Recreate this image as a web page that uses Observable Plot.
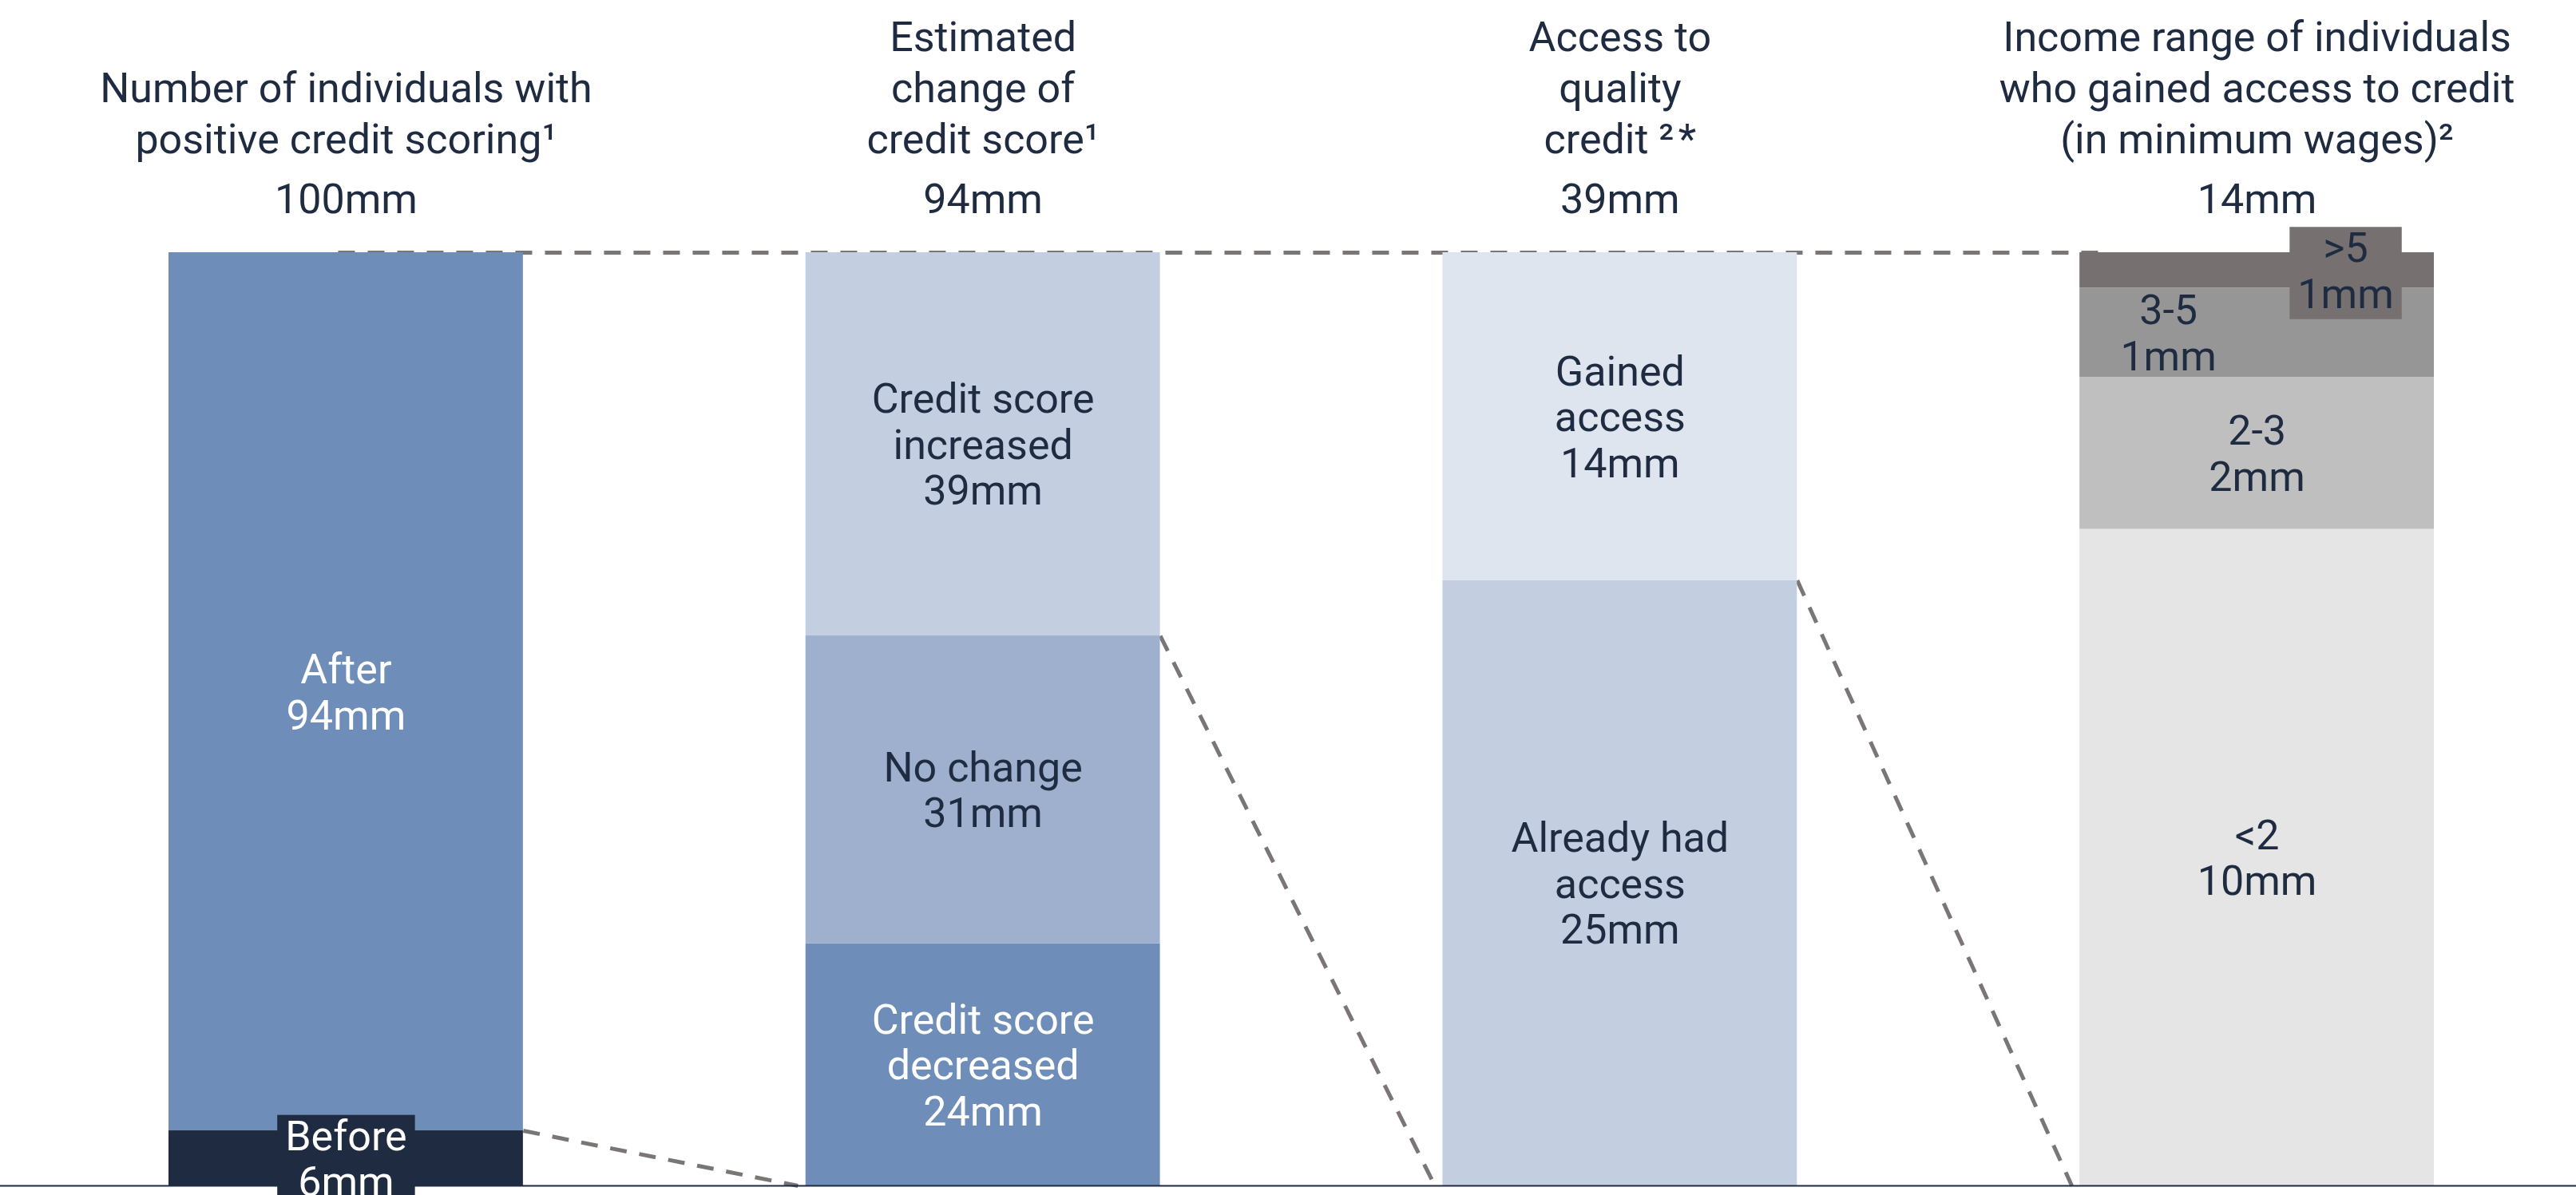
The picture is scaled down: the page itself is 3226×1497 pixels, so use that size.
<!DOCTYPE html>
<html>
<head>
<meta charset="utf-8">
<script src="https://cdn.jsdelivr.net/npm/d3@7"></script>
<script src="https://cdn.jsdelivr.net/npm/@observablehq/plot@0.6"></script>
<style>
  html, body { margin: 0; padding: 0; background: #ffffff; overflow: hidden; }
  #chart svg { display: block; }
</style>
</head>
<body>
<div id="chart"></div>
<script>
// ---------------- DATA ----------------
const headerTitles = [
  "Number of individuals with\npositive credit scoring¹",
  "Estimated\nchange of\ncredit score¹",
  "Access to\nquality\ncredit ²\u200A*",
  "Income range of individuals\nwho gained access to credit\n(in minimum wages)²"
];

const individualsNames = ["Before", "After"];
const individualsValues = [5.9, 94.1];

const scoreChangeNames = ["Credit score\ndecreased", "No change", "Credit score\nincreased"];
const scoreChangeValues = [24.4, 31.0, 38.6];

const accessNames = ["Already had\naccess", "Gained\naccess"];
const accessValues = [25.3, 13.7];

const incomeNames = ["<2", "2-3", "3-5", ">5"];
const incomeValues = [9.85, 2.28, 1.34, 0.53];

// segment of each column that is broken down in the next column
const expandedSegments = ["After", "Credit score\nincreased", "Gained\naccess"];

// ---------------- STYLES ----------------
const segmentColors = {
  "Before": "#1e2b40", "After": "#6e8db9",
  "Credit score\ndecreased": "#6e8db9", "No change": "#9eb0ce", "Credit score\nincreased": "#c3cee0",
  "Already had\naccess": "#c3cee0", "Gained\naccess": "#dfe5ef",
  "<2": "#e5e5e5", "2-3": "#bfbfbf", "3-5": "#969696", ">5": "#767170"
};
const lightLabels = new Set(["Before", "After", "Credit score\ndecreased"]);
const boxedLabels = new Set(["Before", ">5"]);
const labelShift = {"3-5": -0.25, ">5": 0.25}; // fraction of bar width
const DARK = "#1e2b40";
const DASH = "#7a7675";
const BAR_W = 0.5564;   // bar width as a fraction of the column step
const GAP = 0.0125;     // small gap before next bar for connectors
const FONT = 52;

// ---------------- BUILD ----------------
const groups = [
  [individualsNames, individualsValues],
  [scoreChangeNames, scoreChangeValues],
  [accessNames, accessValues],
  [incomeNames, incomeValues]
];

const segments = [];
const columns = [];
groups.forEach(([names, values], bar) => {
  const total = d3.sum(values);
  columns.push({bar, title: headerTitles[bar], total: `${Math.round(total)}mm`});
  let acc = 0;
  names.forEach((name, j) => {
    const v = values[j];
    segments.push({
      bar, name, value: v,
      y1: acc / total, y2: (acc + v) / total,
      label: `${name}\n${Math.round(v)}mm`
    });
    acc += v;
  });
});

const connectors = expandedSegments.map((name, k) => {
  const s = segments.find(d => d.bar === k && d.name === name);
  return {x1: k + BAR_W, y1: s.y1, x2: k + 1 - GAP, y2: 0};
});
const lastBar = groups.length - 1;
const topLine = [{x1: BAR_W / 2 - GAP, x2: lastBar + GAP * 3, y: 1}];

const labelX = d => d.bar + BAR_W / 2 + (labelShift[d.name] || 0) * BAR_W;
const plainSegs = segments.filter(d => !boxedLabels.has(d.name));
const boxedSegs = segments.filter(d => boxedLabels.has(d.name));

const chart = Plot.plot({
  width: 3226,
  height: 1497,
  marginLeft: 0, marginRight: 0, marginTop: 316, marginBottom: 12,
  x: {type: "linear", domain: [0, lastBar + BAR_W], range: [211, 3048], axis: null},
  y: {domain: [0, 1], axis: null},
  color: {type: "identity"},
  style: {fontFamily: "Roboto, 'Noto Sans', sans-serif", background: "#ffffff", overflow: "visible"},
  marks: [
    Plot.link(topLine, {x1: "x1", x2: "x2", y1: "y", y2: "y",
      stroke: DASH, strokeWidth: 5, strokeDasharray: "21,16"}),
    Plot.link(connectors, {x1: "x1", x2: "x2", y1: "y1", y2: "y2",
      stroke: DASH, strokeWidth: 5, strokeDasharray: "21,16"}),
    Plot.rect(segments, {
      x1: d => d.bar, x2: d => d.bar + BAR_W,
      y1: "y1", y2: "y2",
      fill: d => segmentColors[d.name]
    }),
    Plot.ruleY([0], {stroke: DARK, strokeWidth: 2}),
    Plot.text(plainSegs, {
      x: labelX, y: d => (d.y1 + d.y2) / 2, text: "label",
      fill: d => lightLabels.has(d.name) ? "#ffffff" : DARK,
      fontSize: FONT, lineHeight: 1.106, lineAnchor: "middle"
    }),
    Plot.text(boxedSegs, {
      x: labelX, y: d => (d.y1 + d.y2) / 2, text: "label",
      fill: d => lightLabels.has(d.name) ? "#ffffff" : DARK,
      fontSize: FONT, lineHeight: 1.106, lineAnchor: "middle"
    }),
    Plot.text(columns, {
      x: d => d.bar + BAR_W / 2, frameAnchor: "top", text: "title",
      fill: DARK, fontSize: FONT, lineHeight: 1.225, lineAnchor: "bottom", dy: -125
    }),
    Plot.text(columns, {
      x: d => d.bar + BAR_W / 2, frameAnchor: "top", text: "total",
      fill: DARK, fontSize: FONT, lineAnchor: "bottom", dy: -50
    })
  ]
});

document.getElementById("chart").append(chart);

// label background boxes (behind the boxed labels)
const boxedByText = new Map(boxedSegs.map(d => [d.label.replace(/\n/g, ""), d]));
chart.querySelectorAll("text").forEach(t => {
  const d = boxedByText.get(t.textContent);
  if (!d) return;
  const b = t.getBBox();
  const r = document.createElementNS("http://www.w3.org/2000/svg", "rect");
  r.setAttribute("x", b.x - 10);
  r.setAttribute("y", b.y + 4);
  r.setAttribute("width", b.width + 20);
  r.setAttribute("height", b.height - 3);
  r.setAttribute("fill", segmentColors[d.name]);
  const tr = t.getAttribute("transform");
  if (tr) r.setAttribute("transform", tr);
  t.parentNode.insertBefore(r, t);
});
</script>
</body>
</html>
